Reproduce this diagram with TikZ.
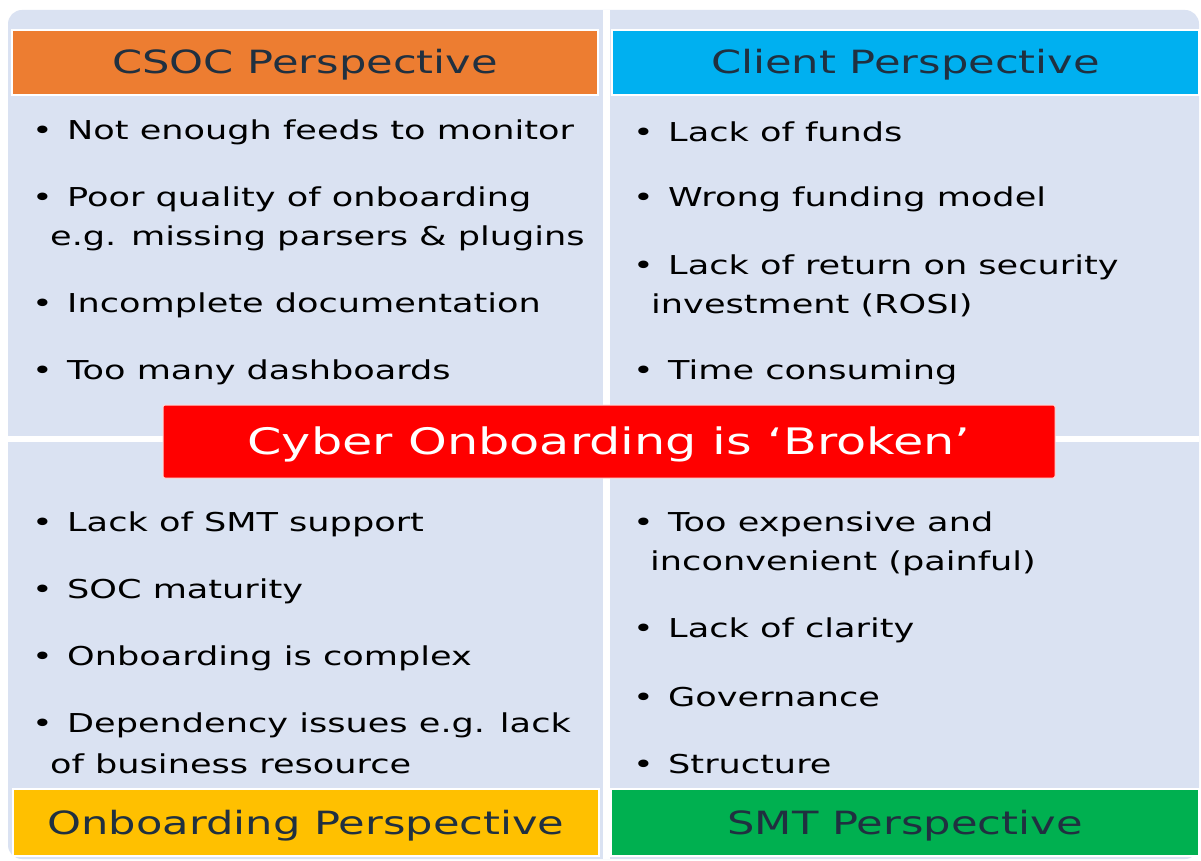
\documentclass[tikz,border=0pt]{standalone}
\usepackage{fontspec}
\setmainfont{DejaVu Sans}[FakeStretch=1.35]
\usetikzlibrary{positioning}

\definecolor{panelbg}{HTML}{DAE2F2}
\definecolor{csocorange}{HTML}{ED7D31}
\definecolor{clientcyan}{HTML}{00B0F0}
\definecolor{onbyellow}{HTML}{FFC000}
\definecolor{smtgreen}{HTML}{00B050}
\definecolor{brokenred}{HTML}{FF0000}
\definecolor{headtxt}{HTML}{203040}

\tikzset{
  header/.style={draw=white, line width=1.5pt, inner sep=0pt, text=headtxt,
    text height=23pt, text depth=0pt, font=\fontsize{32}{38}\selectfont},
  item/.style={anchor=west, inner sep=0pt, text=black,
    font=\fontsize{26}{31}\selectfont},
}
\newcommand{\bul}{\makebox[36pt][l]{\hspace{1pt}\textbullet}}

\begin{document}
\begin{tikzpicture}[x=1pt,y=-1pt]
\useasboundingbox (0,0) rectangle (1201,861);
\fill[white] (0,0) rectangle (1201,861);
% panels
\fill[panelbg, rounded corners=14pt] (8,10) rectangle (1199,859);
\fill[white] (603,10) rectangle (610,859);
\fill[white] (8,436) rectangle (1199,442);

% headers
\node[header, fill=csocorange, minimum width=586pt, minimum height=65pt] (csoc) at (305,62.5) {CSOC Perspective};
\node[header, fill=clientcyan, minimum width=587pt, minimum height=65pt] (client) at (905.5,62.5) {Client Perspective};
\node[header, fill=onbyellow, minimum width=586pt, minimum height=67pt] (onb) at (306,822.5) {Onboarding Perspective};
\node[header, fill=smtgreen, minimum width=588pt, minimum height=67pt] (smt) at (905,822.5) {SMT Perspective};

% CSOC items
\foreach \y/\t in {132/Not enough feeds to monitor, 199/Poor quality of onboarding,
                   305/Incomplete documentation, 372/Too many dashboards}
  \node[item] (csoc\y) at (31,\y) {\bul\t};
\node[item] (csoc238) at (50,238) {e.g. missing parsers \& plugins};

% client items
\foreach \y/\t in {132/Lack of funds, 199/Wrong funding model,
                   267/Lack of return on security, 372/Time consuming}
  \node[item] (client\y) at (632,\y) {\bul\t};
\node[item] (client305) at (651,305) {investment (ROSI)};

% onboarding items
\foreach \y/\t in {524/Lack of SMT support, 591/SOC maturity,
                   658/Onboarding is complex, 725/Dependency issues e.g. lack}
  \node[item] (onb\y) at (31,\y) {\bul\t};
\node[item] (onb764) at (50,764) {of business resource};

% SMT items
\foreach \y/\t in {524/Too expensive and, 630/Lack of clarity,
                   697/Governance, 764/Structure}
  \node[item] (smt\y) at (632,\y) {\bul\t};
\node[item] (smt563) at (650,563) {inconvenient (painful)};

% banner
\node[draw=white!85!red, line width=1pt, fill=brokenred, rounded corners=2pt,
  minimum width=892pt, minimum height=73pt, text=white, text height=26pt, text depth=0pt,
  font=\fontsize{36.5}{42}\selectfont] (broken) at (609,441.5) {Cyber Onboarding is ‘Broken’};
\end{tikzpicture}
\end{document}
